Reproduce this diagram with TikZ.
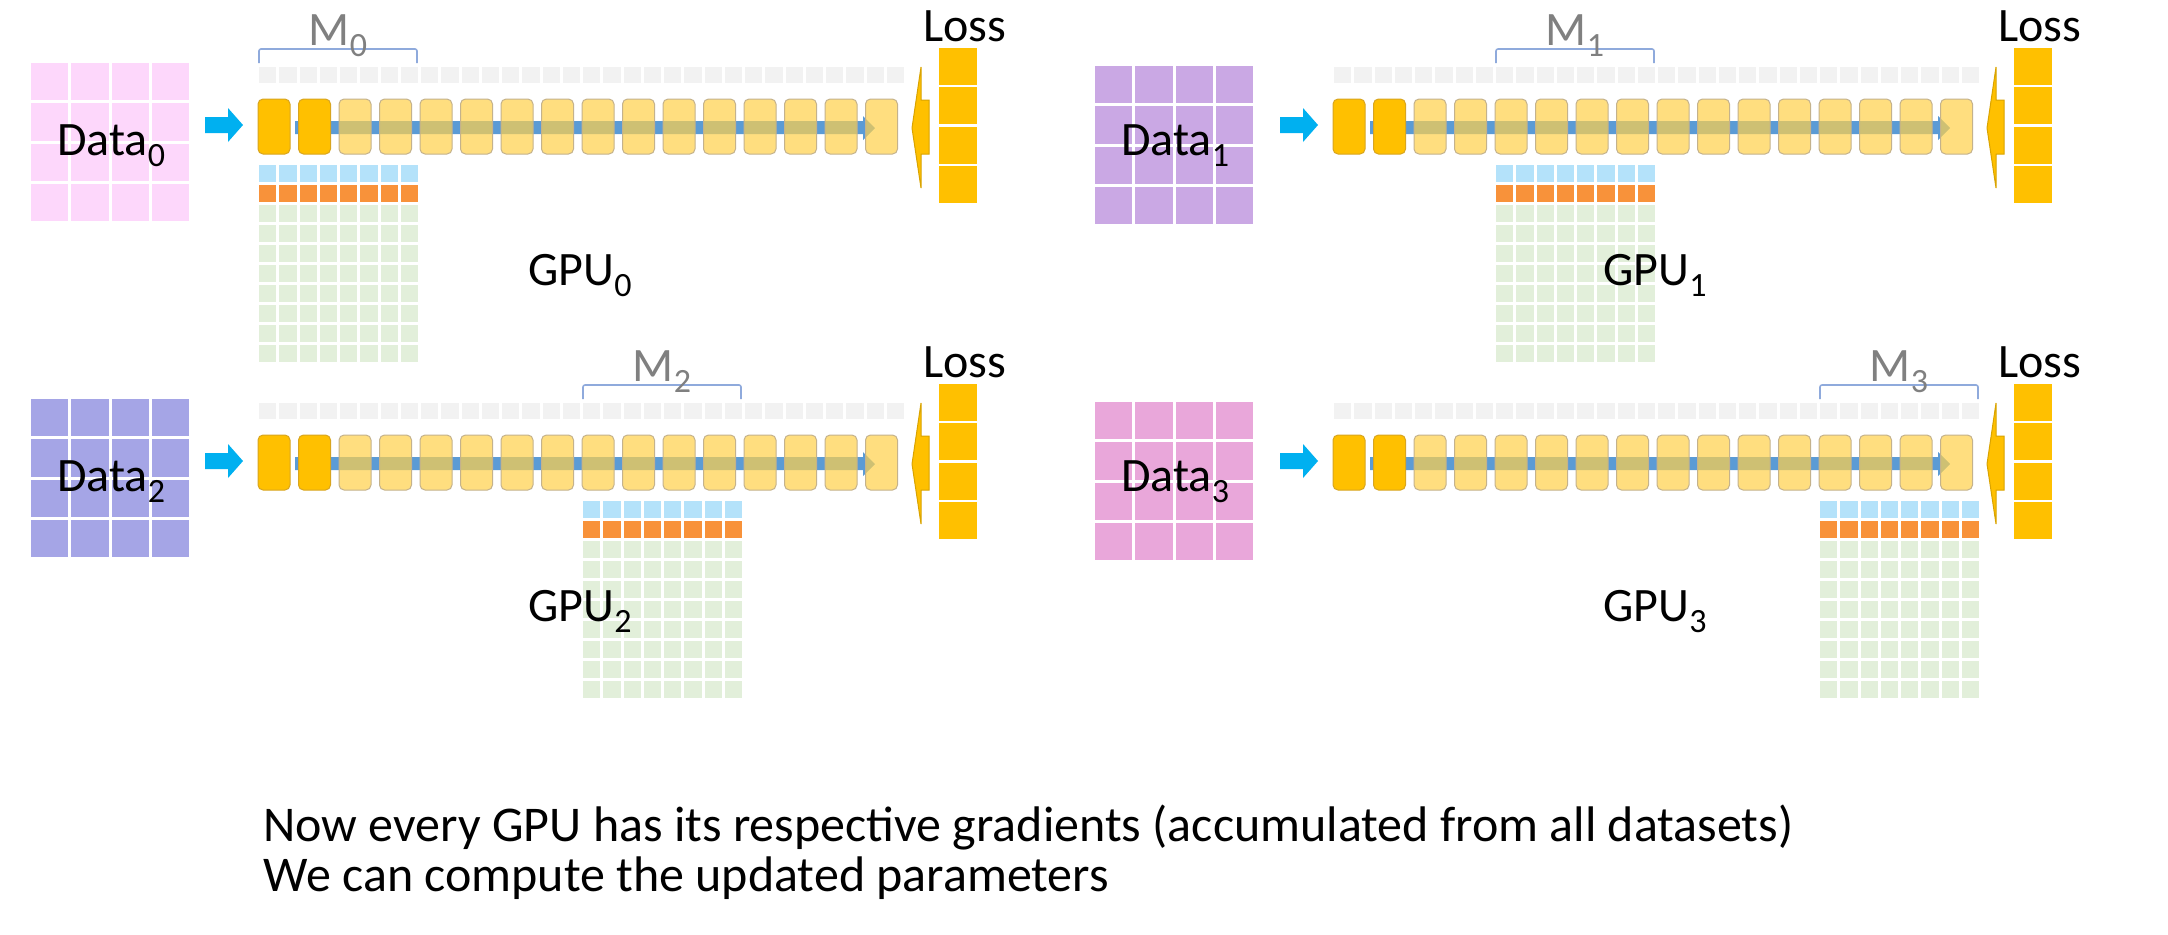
\documentclass[tikz,border=0pt]{standalone}
\usepackage{fontspec}
\setmainfont{Carlito}
\definecolor{dataA}{HTML}{FDD7FB}
\definecolor{dataB}{HTML}{CAA8E4}
\definecolor{dataC}{HTML}{A5A5E6}
\definecolor{dataD}{HTML}{E9A7DA}
\definecolor{inblue}{HTML}{00B0F0}
\definecolor{fwdblue}{HTML}{5B9BD5}
\definecolor{layerdark}{HTML}{FFC000}
\definecolor{layerdarkedge}{HTML}{D8A520}
\definecolor{layerlight}{HTML}{FFD14A}
\definecolor{layeredge}{HTML}{C4B28C}
\definecolor{parmgray}{HTML}{F2F2F2}
\definecolor{gradblue}{HTML}{B4E2FA}
\definecolor{gradorange}{HTML}{F8923A}
\definecolor{gradgreen}{HTML}{E2EFDA}
\definecolor{brackblue}{HTML}{8FAADC}
\definecolor{mgray}{HTML}{808080}
\definecolor{bwdedge}{HTML}{D9A300}
\newcommand{\sbs}[1]{\raisebox{-5.5pt}{\fontsize{17}{17}\selectfont #1}}

\begin{document}
\begin{tikzpicture}[x=0.5pt, y=-0.5pt,
    darklayer/.style={fill=layerdark, draw=layerdarkedge, line width=0.5pt, rounded corners=2.5pt},
    lightlayer/.style={fill=layerlight, fill opacity=0.7, draw=layeredge, line width=0.5pt, rounded corners=2.5pt},
    bwdarrow/.style={fill=layerdark, draw=bwdedge, line width=0.5pt},
    brack/.style={draw=brackblue, line width=0.8pt, rounded corners=1pt},
    lbl/.style={inner sep=0pt, font=\fontsize{24}{28}\selectfont},
    mlbl/.style={lbl, text=mgray},
    note/.style={inner sep=0pt, font=\fontsize{25}{30}\selectfont}]
  \fill[white] (0,0) rectangle (2168,934);
  \useasboundingbox (0,0) rectangle (2168,934);

  \foreach \q/\dx/\dy/\ddx/\ddy/\dcol [evaluate=\q as \gs using int(8*\q)] in
      {0/0/0/0/0/dataA, 1/1075/0/1064/3/dataB, 2/0/336/0/0/dataC, 3/1075/336/1064/3/dataD} {
    % data batch
    \foreach \i in {0,...,3}
      \foreach \j in {0,...,3}
        \fill[\dcol] ({31+\ddx+40.25*\i},{63+\dy+\ddy+40.25*\j}) rectangle ++(37.25,37.25);
    \node[lbl, anchor=base west] (data\q) at (57+\ddx,155+\dy) {Data\sbs{\q}};

    \begin{scope}[shift={(\dx,\dy)}]
      % parameters
      \foreach \k in {0,...,31}
        \fill[parmgray] ({259+20.25*\k},67) rectangle ++(17.25,16);
      % input arrow
      \fill[inblue] (205,117) -- (228,117) -- (228,108) -- (243,125) -- (228,142) -- (228,133) -- (205,133) -- cycle;
      % forward pass
      \fill[fwdblue] (295,121) -- (863,121) -- (863,116) -- (875,128) -- (863,140) -- (863,134) -- (295,134) -- cycle;
      \foreach \b in {0,1}
        \filldraw[darklayer] ({258+40.5*\b},99) rectangle ++(32,55);
      \foreach \b in {2,...,15}
        \filldraw[lightlayer] ({258+40.5*\b},99) rectangle ++(32,55);
      % backward pass
      \filldraw[bwdarrow] (912,128) -- (921,67) -- (921,100) -- (929,100) -- (929,154) -- (921,154) -- (921,188) -- cycle;
      \foreach \r in {0,...,3}
        \fill[layerdark] (939,{48+39.3*\r}) rectangle ++(38,37);
      \node[lbl, anchor=base west] (loss\q) at (923,41) {Loss};
      % gradients of this shard
      \foreach \c in {0,...,7} {
        \fill[gradblue] ({259+20.25*(\gs+\c)},165) rectangle ++(17.25,17);
        \fill[gradorange] ({259+20.25*(\gs+\c)},185) rectangle ++(17.25,17);
        \foreach \r in {0,...,7}
          \fill[gradgreen] ({259+20.25*(\gs+\c)},{205+20*\r}) rectangle ++(17.25,17);
      }
      \draw[brack] ({259+20.25*\gs},63) -- ++(0,-14) -- ++(158,0) -- ++(0,14);
      \node[mlbl, anchor=base] (m\q) at ({338+20.25*\gs},45) {M\sbs{\q}};
      \node[lbl, anchor=base west] (gpu\q) at (528,285) {GPU\sbs{\q}};
    \end{scope}
  }

  \node[note, anchor=base west] (note1) at (263,841) {Now every GPU has its respective gradients (accumulated from all datasets)};
  \node[note, anchor=base west] (note2) at (263,891) {We can compute the updated parameters};
\end{tikzpicture}
\end{document}
